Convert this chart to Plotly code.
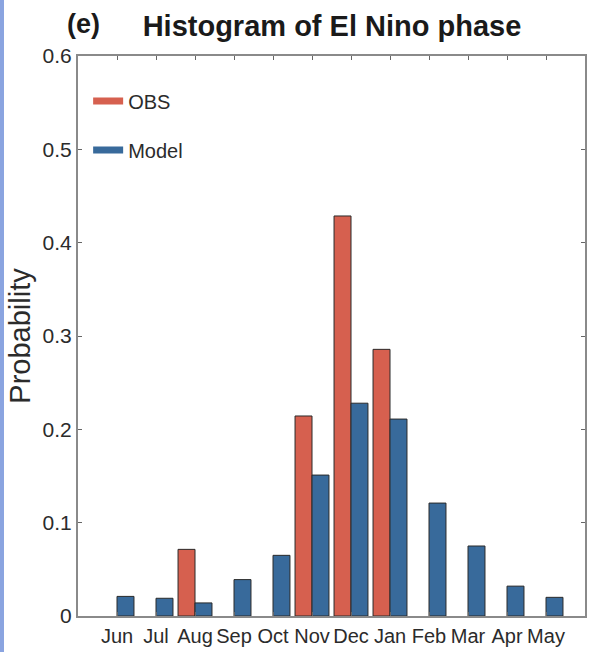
import plotly.graph_objects as go

months = ["Jun", "Jul", "Aug", "Sep", "Oct", "Nov", "Dec", "Jan", "Feb", "Mar", "Apr", "May"]
obs = [0, 0, 0.0714, 0, 0, 0.2143, 0.4286, 0.2857, 0, 0, 0, 0]
model = [0.021, 0.019, 0.014, 0.039, 0.065, 0.151, 0.228, 0.211, 0.121, 0.075, 0.032, 0.020]
yticks = [0, 0.1, 0.2, 0.3, 0.4, 0.5, 0.6]
ytick_text = ["0", "0.1", "0.2", "0.3", "0.4", "0.5", "0.6"]

RED = "#d6604f"
BLUE = "#386a9b"
FONT = "Liberation Sans, Arial, Helvetica, sans-serif"
TXT = "#2b2b2b"

fig = go.Figure()
fig.add_trace(go.Bar(x=months, y=[v if v > 0 else None for v in obs],
                     marker=dict(color=RED, line=dict(color="#2a2a2a", width=1)),
                     showlegend=False, name="OBS"))
fig.add_trace(go.Bar(x=months, y=[v if v > 0 else None for v in model],
                     marker=dict(color=BLUE, line=dict(color="#2a2a2a", width=1)),
                     showlegend=False, name="Model"))
# legend entries
fig.add_trace(go.Scatter(x=[None], y=[None], mode="lines", line=dict(color=RED, width=7),
                         name="OBS", legend="legend"))
fig.add_trace(go.Scatter(x=[None], y=[None], mode="lines", line=dict(color=BLUE, width=7),
                         name="Model", legend="legend2"))

axis_common = dict(showline=True, linecolor="#8a8a8a", linewidth=2, mirror="ticks",
                   ticks="inside", ticklen=4, tickcolor="#666", showgrid=False, zeroline=False,
                   automargin=False)

fig.update_layout(
    width=590, height=652,
    margin=dict(l=78, r=5, t=56, b=36),
    paper_bgcolor="white", plot_bgcolor="white",
    barmode="group", bargap=0.13, bargroupgap=0,
    xaxis=dict(range=[-1, 12], type="category", categoryorder="array", categoryarray=months,
               tickangle=0, ticklabelstandoff=1,
               tickfont=dict(family=FONT, size=20, color=TXT), **axis_common),
    yaxis=dict(range=[0, 0.6], tickvals=yticks, ticktext=ytick_text,
               tickfont=dict(family=FONT, size=21, color=TXT),
               title=dict(text="Probability", font=dict(family=FONT, size=29, color=TXT), standoff=3),
               **axis_common),
    legend=dict(x=0.02, y=(616 - 101) / 560, xanchor="left", yanchor="middle", bgcolor="rgba(0,0,0,0)",
                font=dict(family=FONT, size=20, color=TXT), itemwidth=30),
    legend2=dict(x=0.02, y=(616 - 150) / 560, xanchor="left", yanchor="middle", bgcolor="rgba(0,0,0,0)",
                 font=dict(family=FONT, size=20, color=TXT), itemwidth=30),
    title=dict(text="<b>Histogram of El Nino phase</b>", x=332 / 590, xanchor="center",
               y=1 - 26 / 652, yanchor="middle", font=dict(family=FONT, size=29, color="#1a1a1a"),
               automargin=False),
    annotations=[dict(text="<b>(e)</b>", xref="paper", yref="paper", x=(83 - 78) / 507,
                      y=1 + (56 - 24) / 560, xanchor="center", yanchor="middle", showarrow=False,
                      font=dict(family=FONT, size=27, color="#1a1a1a"))],
    shapes=[dict(type="rect", xref="paper", yref="paper", x0=-78 / 507, x1=-74 / 507,
                 y0=-36 / 560, y1=1 + 56 / 560, fillcolor="#8aa4e0", line=dict(width=0))],
)

fig.write_html("out.html")
